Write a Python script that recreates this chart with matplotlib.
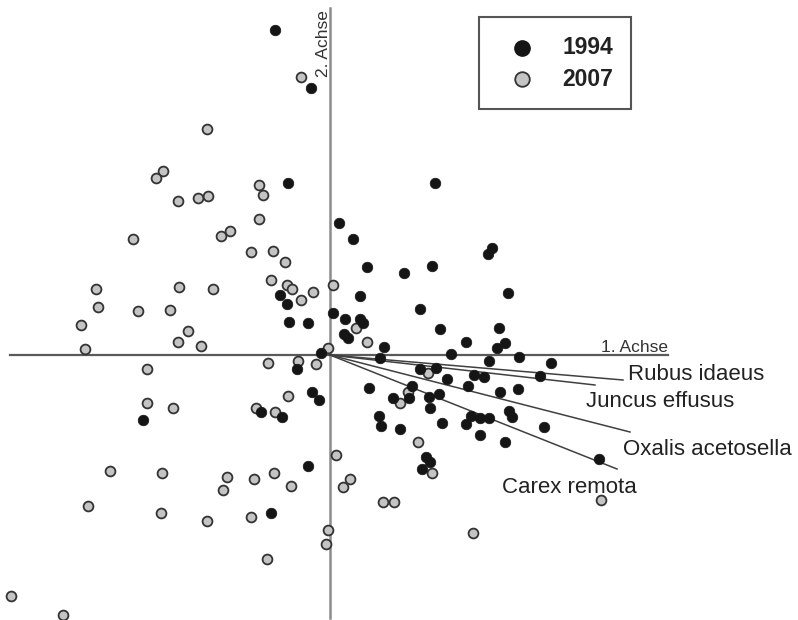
import matplotlib
matplotlib.use("Agg")
import matplotlib.pyplot as plt
from matplotlib.patches import Rectangle

plt.rcParams['font.family'] = ['Liberation Sans', 'DejaVu Sans']

# site scores, 1994
x_1994 = [-0.55, -0.19, -0.42, 1.05, 0.09, 0.23, 0.37, 0.74, 1.02, 1.62, 1.58,
          -0.50, -0.43, -0.41, -0.22, 0.30, 1.78, 0.90, 0.03, 0.15, 0.30, 0.33,
          1.10, 1.69, 0.14, 0.18, 0.54, 1.36, 1.75, 1.67, -0.09, 0.50, 1.21,
          1.59, 1.89, 2.21, -0.33, 0.90, 1.06, 1.17, 1.44, 1.54, 2.10, 0.39,
          0.82, 1.38, 1.70, 1.88, 0.63, 0.79, 0.99, 1.09, 1.00, -0.18, -0.11,
          -0.69, -0.48, -1.87, 0.49, 0.51, 0.70, 1.12, 1.41, 1.36, 1.50, 1.59,
          1.79, 1.82, 1.50, 1.75, 2.14, 0.96, 1.00, 0.92, 2.69, -0.22, -0.59]
y_1994 = [3.25, 2.67, 1.72, 1.72, 1.32, 1.16, 0.88, 0.82, 0.89, 1.07, 1.01,
          0.60, 0.51, 0.33, 0.32, 0.59, 0.62, 0.46, 0.42, 0.36, 0.36, 0.32,
          0.26, 0.27, 0.21, 0.17, 0.08, 0.13, 0.12, 0.07, 0.02, -0.03, 0.01,
          -0.06, -0.02, -0.08, -0.14, -0.14, -0.13, -0.24, -0.20, -0.22, -0.21,
          -0.33, -0.31, -0.31, -0.37, -0.34, -0.43, -0.43, -0.42, -0.39, -0.53,
          -0.37, -0.45, -0.57, -0.62, -0.65, -0.61, -0.71, -0.74, -0.68, -0.61,
          -0.69, -0.63, -0.63, -0.56, -0.62, -0.80, -0.87, -0.72, -1.02, -1.07,
          -1.14, -1.04, -1.11, -1.58]

# site scores, 2007
x_2007 = [-0.29, -1.23, -1.67, -1.74, -0.71, -0.67, -1.52, -1.32, -1.22, -0.71,
          -1.97, -1.09, -1.00, -0.79, -0.57, -0.45, -0.59, -0.43, -0.38, -0.17,
          -0.29, 0.03, -2.34, -2.32, -1.51, -1.17, -1.92, -1.60, -2.49, -1.42,
          -1.52, -1.29, -2.45, -0.02, 0.26, 0.37, -0.62, -0.32, -0.14, -1.83,
          0.98, -1.83, -1.57, -0.74, -0.55, -0.42, 0.78, 0.70, 0.88, 0.06,
          1.02, -2.20, -1.68, -1.03, -1.07, -0.76, -0.56, -0.39, 0.20, 0.13,
          -2.42, -1.69, -1.23, -0.79, 0.53, 0.64, 2.71, -0.02, -0.04, -0.63,
          1.43, -3.19, -2.67]
y_2007 = [2.78, 2.26, 1.84, 1.77, 1.70, 1.60, 1.54, 1.57, 1.59, 1.36,
          1.16, 1.19, 1.24, 1.03, 1.04, 0.93, 0.75, 0.70, 0.66, 0.63,
          0.55, 0.70, 0.66, 0.48, 0.68, 0.66, 0.44, 0.45, 0.30, 0.24,
          0.13, 0.09, 0.06, 0.07, 0.27, 0.13, -0.08, -0.06, -0.09, -0.14,
          -0.18, -0.48, -0.53, -0.53, -0.57, -0.41, -0.37, -0.48, -0.87, -1.00,
          -1.18, -1.16, -1.18, -1.22, -1.35, -1.24, -1.18, -1.31, -1.24, -1.32,
          -1.51, -1.58, -1.66, -1.62, -1.47, -1.47, -1.45, -1.75, -1.89, -2.04,
          -1.78, -2.41, -2.60]

# species vectors
species = ['Rubus idaeus', 'Juncus effusus', 'Oxalis acetosella', 'Carex remota']
vec_x = [2.93, 2.65, 3.00, 2.87]
vec_y = [-0.25, -0.30, -0.77, -1.14]
label_x = [2.98, 2.56, 2.93, 1.72]
label_y = [-0.25, -0.52, -1.00, -1.38]

years = ['1994', '2007']

fig = plt.figure(figsize=(7.98, 6.2), dpi=100)
ax = fig.add_axes([0, 0, 1, 1])
ax.set_xlim(-3.30, 4.68)
ax.set_ylim(-2.65, 3.55)
ax.axis('off')

# axes through the origin
ax.plot([-3.20, 3.38], [0, 0], color='#5a5a5a', lw=1.6, zorder=1)
ax.plot([0, 0], [-2.63, 3.47], color='#8c8c8c', lw=1.8, zorder=1)
ax.text(2.71, 0.03, '1. Achse', fontsize=12.5, color='#333333',
        ha='left', va='baseline')
ax.text(0.005, 2.78, '2. Achse', fontsize=12.5, color='#333333',
        rotation=90, ha='right', va='bottom')

for name, vx, vy, lx, ly in zip(species, vec_x, vec_y, label_x, label_y):
    ax.plot([0, vx], [0, vy], color='#404040', lw=1.1, zorder=2)
    ax.text(lx, ly, name, fontsize=16, color='#222222', ha='left', va='baseline')

ax.scatter(x_2007, y_2007, s=50, facecolor='#c4c4c4', edgecolor='#333333',
           linewidth=1.3, zorder=3)
ax.scatter(x_1994, y_1994, s=58, facecolor='#151515', edgecolor='#151515',
           linewidth=0.5, zorder=4)

# legend box
ax.add_patch(Rectangle((1.49, 2.46), 1.52, 0.92, facecolor='white',
                       edgecolor='#555555', lw=1.5, zorder=5))
ax.plot(1.92, 3.07, 'o', ms=11, mfc='#151515', mec='#151515', zorder=6)
ax.plot(1.92, 2.76, 'o', ms=10.5, mfc='#c4c4c4', mec='#333333', mew=1.3, zorder=6)
ax.text(2.32, 3.07, years[0], fontsize=16.5, fontweight='bold', color='#222222',
        ha='left', va='center', zorder=6)
ax.text(2.32, 2.76, years[1], fontsize=16.5, fontweight='bold', color='#222222',
        ha='left', va='center', zorder=6)

fig.savefig('out.png', dpi=100)
